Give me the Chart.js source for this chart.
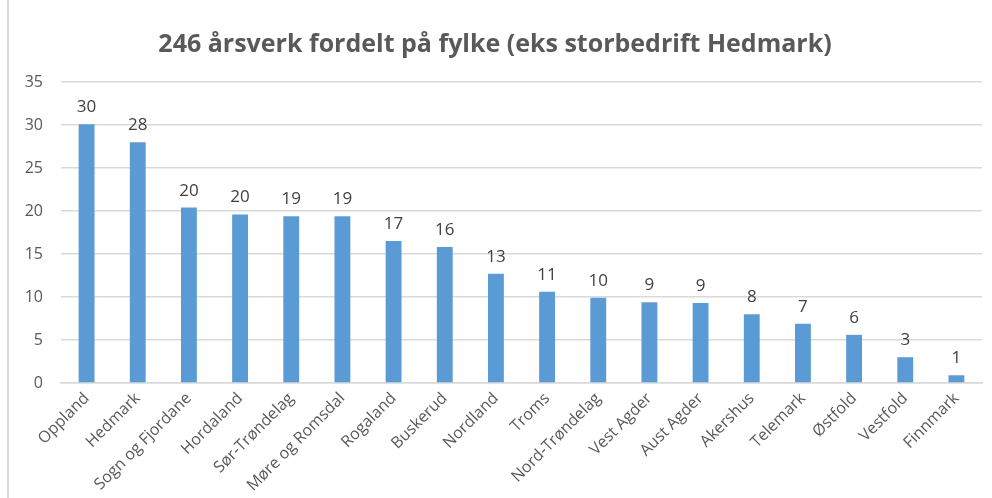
<!DOCTYPE html>
<html>
<head>
<meta charset="utf-8">
<script src="https://cdn.jsdelivr.net/npm/chart.js@4"></script>
<style>
  html, body { margin: 0; padding: 0; background: #fff; }
  #wrap { position: relative; width: 992px; height: 498px; }
  #frame { position: absolute; left: 7px; top: 0; width: 2px; height: 498px; background: #d9d9d9; }
</style>
</head>
<body>
<div id="wrap">
  <canvas id="myChart" width="992" height="498"></canvas>
  <div id="frame"></div>
</div>
<script>
// fylker og årsverk (lest fra figuren)
const fylker = ['Oppland', 'Hedmark', 'Sogn og Fjordane', 'Hordaland', 'Sør-Trøndelag', 'Møre og Romsdal',
  'Rogaland', 'Buskerud', 'Nordland', 'Troms', 'Nord-Trøndelag', 'Vest Agder', 'Aust Agder',
  'Akershus', 'Telemark', 'Østfold', 'Vestfold', 'Finnmark'];
const aarsverk = [30.1, 28.0, 20.4, 19.6, 19.4, 19.4, 16.5, 15.8, 12.7, 10.6, 9.9, 9.4, 9.3, 8.0, 6.9, 5.6, 3.0, 0.9];
const yTicks = [0, 5, 10, 15, 20, 25, 30, 35];

const FONT = "'Open Sans', sans-serif";

// verdier over søylene
const valueLabels = {
  id: 'valueLabels',
  afterDatasetsDraw(chart) {
    const ctx = chart.ctx;
    const meta = chart.getDatasetMeta(0);
    ctx.save();
    ctx.font = '17px ' + FONT;
    ctx.fillStyle = '#404040';
    ctx.textAlign = 'center';
    ctx.textBaseline = 'alphabetic';
    meta.data.forEach((bar, i) => {
      ctx.fillText(Math.round(aarsverk[i]), bar.x, bar.y - 12);
    });
    ctx.restore();
  }
};

const ctx = document.getElementById('myChart').getContext('2d');
const myChart = new Chart(ctx, {
  type: 'bar',
  data: {
    labels: fylker,
    datasets: [{
      label: 'Årsverk',
      data: aarsverk,
      backgroundColor: '#5B9BD5',
      barPercentage: 0.62,
      categoryPercentage: 0.5
    }]
  },
  options: {
    responsive: false,
    animation: false,
    layout: { padding: { left: 8, right: 10, top: 0, bottom: 0 } },
    plugins: {
      legend: { display: false },
      tooltip: { enabled: false },
      title: {
        display: true,
        text: '246 årsverk fordelt på fylke (eks storbedrift Hedmark)',
        color: '#595959',
        font: { family: FONT, size: 25, weight: 'bold' },
        padding: { top: 30, bottom: 22 }
      }
    },
    scales: {
      y: {
        min: 0,
        max: 35,
        afterBuildTicks: scale => { scale.ticks = yTicks.map(v => ({ value: v })); },
        afterFit: scale => { scale.width = 53; },
        ticks: { color: '#595959', font: { family: FONT, size: 16 }, padding: 18 },
        grid: { color: '#d9d9d9', lineWidth: 1.5, drawTicks: false },
        border: { display: false }
      },
      x: {
        afterFit: scale => { scale.height = 115; },
        ticks: { color: '#595959', font: { family: FONT, size: 16 }, minRotation: 45, maxRotation: 45, padding: 6 },
        grid: { display: false, drawTicks: false },
        border: { color: '#d9d9d9', width: 1.5 }
      }
    }
  },
  plugins: [valueLabels]
});
</script>
</body>
</html>
